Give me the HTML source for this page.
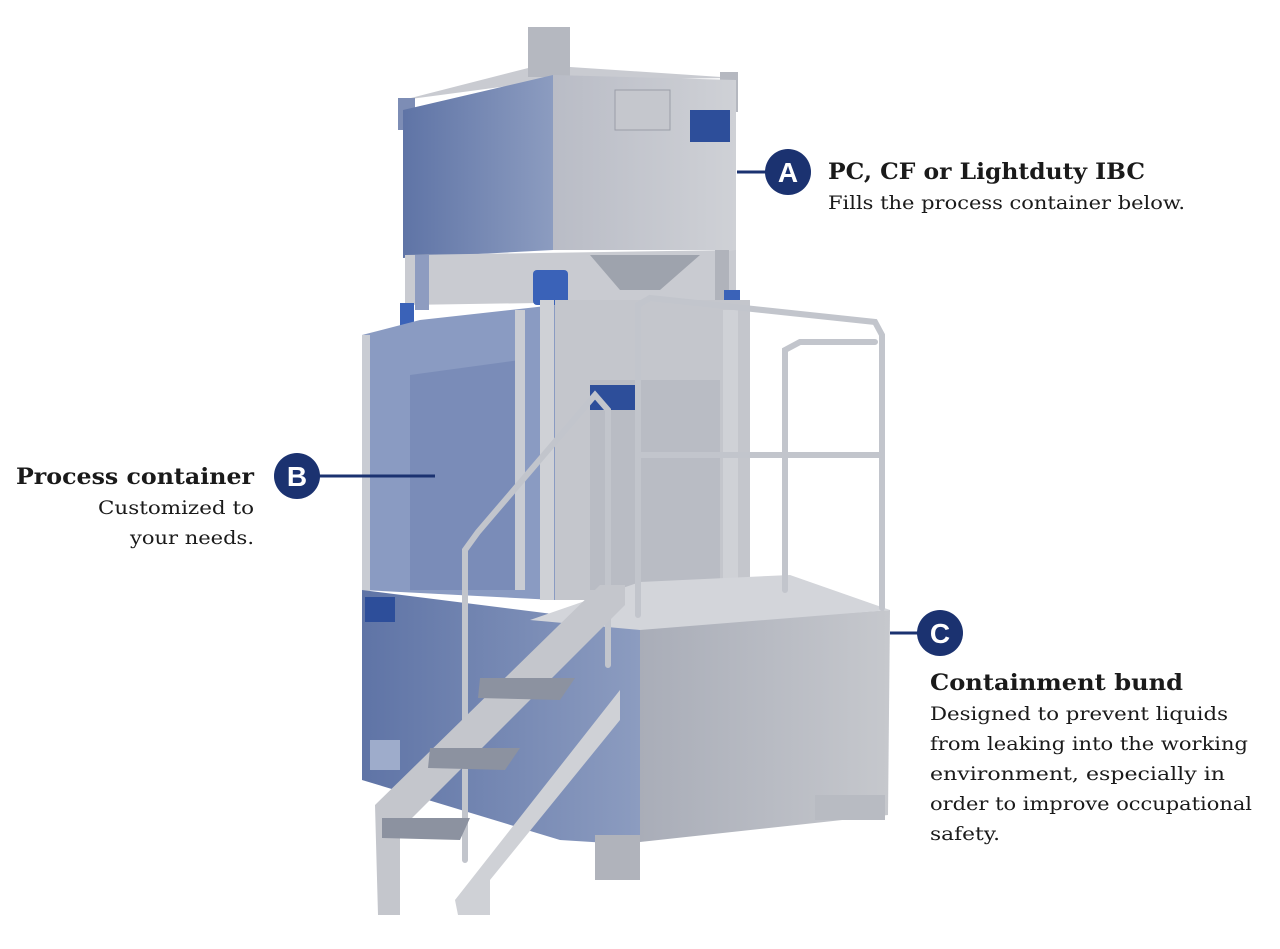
<!DOCTYPE html>
<html><head><meta charset="utf-8"><style>
html,body{margin:0;padding:0;background:#fff;}
svg{display:block}
.t{font-family:"DejaVu Serif","Liberation Serif",serif;fill:#1a1a1a}
.b{font-weight:bold;font-size:22px}
.s{font-size:19px}
.c{font-family:"Liberation Sans",sans-serif;font-weight:bold;font-size:28px;fill:#fff}
</style></head><body>
<svg width="1280" height="949" viewBox="0 0 1280 949" xmlns="http://www.w3.org/2000/svg">
<defs>
<linearGradient id="gl" x1="0" y1="0" x2="1" y2="0"><stop offset="0" stop-color="#5f74a6"/><stop offset="1" stop-color="#8c9cc0"/></linearGradient>
<linearGradient id="gr" x1="0" y1="0" x2="1" y2="0"><stop offset="0" stop-color="#b9bcc6"/><stop offset="1" stop-color="#cfd1d6"/></linearGradient>
<linearGradient id="gb" x1="0" y1="0" x2="1" y2="0"><stop offset="0" stop-color="#a9adb8"/><stop offset="1" stop-color="#c6c8cd"/></linearGradient>
</defs>
<!-- top IBC -->
<polygon points="403,100 540,65 736,78 553,80" fill="#c9cbd1"/>
<rect x="528" y="27" width="42" height="50" fill="#b5b8c0"/>
<rect x="720" y="72" width="18" height="40" fill="#b5b8c0"/>
<rect x="398" y="98" width="17" height="32" fill="#7d8db5"/>
<polygon points="403,110 553,75 553,250 403,258" fill="url(#gl)"/>
<polygon points="553,75 736,80 736,250 553,250" fill="url(#gr)"/>
<rect x="690" y="110" width="40" height="32" fill="#2d4e9a"/>
<rect x="615" y="90" width="55" height="40" fill="#c5c7cd" stroke="#9a9ea8"/>
<!-- legs/hopper -->
<polygon points="405,255 736,250 736,300 405,305" fill="#c9cbd1"/>
<polygon points="590,255 700,255 660,290 620,290" fill="#9ea3ad"/>
<rect x="415" y="255" width="14" height="55" fill="#8e9cc0"/>
<rect x="715" y="250" width="14" height="50" fill="#b0b3bb"/>
<rect x="533" y="270" width="35" height="35" rx="4" fill="#3a62b8"/>
<rect x="724" y="290" width="16" height="30" fill="#3a62b8"/>
<rect x="400" y="303" width="14" height="25" fill="#3a62b8"/>
<!-- process frame -->
<polygon points="362,335 420,320 555,305 555,600 362,590" fill="#8a9bc2"/>
<polygon points="410,375 520,360 520,590 410,590" fill="#7a8cb8"/>
<polygon points="555,300 750,300 750,600 555,600" fill="#c4c6cc"/>
<polygon points="590,380 720,380 720,590 590,590" fill="#b9bcc4"/>
<rect x="590" y="385" width="45" height="25" fill="#2d4e9a"/>
<rect x="362" y="335" width="8" height="260" fill="#c9ccd3"/>
<rect x="515" y="310" width="10" height="280" fill="#c9ccd3"/>
<rect x="540" y="300" width="14" height="300" fill="#cfd1d6"/>
<rect x="723" y="310" width="15" height="300" fill="#cfd1d6"/>
<!-- bund -->
<polygon points="362,590 640,625 640,845 560,840 362,780" fill="url(#gl)"/>
<polygon points="640,628 890,610 888,815 640,842" fill="url(#gb)"/>
<polygon points="530,620 640,630 890,610 790,575 640,582" fill="#d3d5da"/>
<rect x="365" y="597" width="30" height="25" fill="#2d4e9a"/>
<rect x="370" y="740" width="30" height="30" fill="#9eaccb"/>
<rect x="595" y="835" width="45" height="45" fill="#b0b3bb"/>
<rect x="815" y="795" width="70" height="25" fill="#b8bbc2"/>
<!-- railings -->
<g fill="none" stroke="#c2c5cc" stroke-width="6" stroke-linecap="round">
<polyline points="638,615 638,305 650,298 875,322 882,335 882,608"/>
<polyline points="785,590 785,350 800,342 875,342"/>
<line x1="640" y1="455" x2="880" y2="455"/>
<polyline points="465,860 465,550 478,532 595,395 608,410 608,665"/>
</g>
<!-- stairs -->
<polygon points="375,805 600,585 625,585 625,605 400,830 400,915 378,915" fill="#c4c6cc"/>
<polygon points="455,900 620,690 620,720 490,880 490,915 458,915" fill="#cfd1d6"/>
<polygon points="480,678 575,678 560,700 478,698" fill="#8c92a0"/>
<polygon points="430,748 520,748 505,770 428,768" fill="#8c92a0"/>
<polygon points="382,818 470,818 460,840 382,838" fill="#8c92a0"/>
<!-- connectors -->
<g stroke="#1b3270" stroke-width="3">
<line x1="737" y1="172" x2="768" y2="172"/>
<line x1="318" y1="476" x2="435" y2="476"/>
<line x1="890" y1="633" x2="920" y2="633"/>
</g>
<circle cx="788" cy="172" r="23" fill="#1b3270"/>
<circle cx="297" cy="476" r="23" fill="#1b3270"/>
<circle cx="940" cy="633" r="23" fill="#1b3270"/>
<text class="c" x="788" y="182" text-anchor="middle">A</text>
<text class="c" x="297" y="486" text-anchor="middle">B</text>
<text class="c" x="940" y="643" text-anchor="middle">C</text>
<!-- labels -->
<text class="t b" x="828" y="179" textLength="317" lengthAdjust="spacingAndGlyphs">PC, CF or Lightduty IBC</text>
<text class="t s" x="828" y="209" textLength="357" lengthAdjust="spacingAndGlyphs">Fills the process container below.</text>
<text class="t b" x="16" y="484" textLength="238" lengthAdjust="spacingAndGlyphs">Process container</text>
<text class="t s" x="98" y="514" textLength="156" lengthAdjust="spacingAndGlyphs">Customized to</text>
<text class="t s" x="130" y="544" textLength="124" lengthAdjust="spacingAndGlyphs">your needs.</text>
<text class="t b" x="930" y="690" textLength="253" lengthAdjust="spacingAndGlyphs">Containment bund</text>
<text class="t s" x="930" y="720" textLength="298" lengthAdjust="spacingAndGlyphs">Designed to prevent liquids</text>
<text class="t s" x="930" y="750" textLength="318" lengthAdjust="spacingAndGlyphs">from leaking into the working</text>
<text class="t s" x="930" y="780" textLength="295" lengthAdjust="spacingAndGlyphs">environment, especially in</text>
<text class="t s" x="930" y="810" textLength="322" lengthAdjust="spacingAndGlyphs">order to improve occupational</text>
<text class="t s" x="930" y="840" textLength="70" lengthAdjust="spacingAndGlyphs">safety.</text>
</svg>
</body></html>
